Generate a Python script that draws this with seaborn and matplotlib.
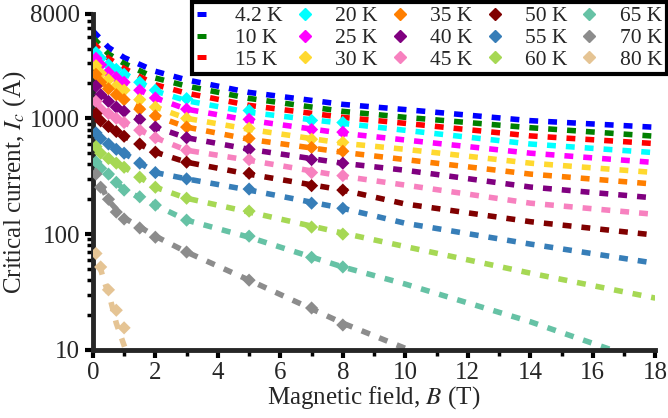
import numpy as np
import pandas as pd
import matplotlib
matplotlib.use('Agg')
import matplotlib.pyplot as plt
from matplotlib.lines import Line2D
from matplotlib.ticker import MultipleLocator, FixedLocator, FixedFormatter
import seaborn as sns

# temperature labels and colours
temps = ['4.2 K', '10 K', '15 K', '20 K', '25 K', '30 K', '35 K', '40 K',
         '45 K', '50 K', '55 K', '60 K', '65 K', '70 K', '80 K']
colors = ['#0000ff', '#008000', '#ff0000', '#00ffff', '#ff00ff', '#ffd92f',
          '#ff7f00', '#800080', '#f781bf', '#800000', '#377eb8', '#a6d854',
          '#66c2a5', '#8c8c8c', '#e5c494']

# fitted curves
fit_b = [0, 0.5, 1, 2, 3, 5, 8, 10, 14, 18]
fit_ic = {
    '4.2 K': [5700, 4100, 3350, 2550, 2150, 1675, 1320, 1190, 955, 837],
    '10 K': [5000, 3600, 2980, 2230, 1900, 1487, 1149, 1020, 830, 700],
    '15 K': [4500, 3300, 2700, 1950, 1650, 1294, 1020, 905, 705, 605],
    '20 K': [4000, 2900, 2440, 1720, 1420, 1126, 905, 788, 600, 505],
    '25 K': [3550, 2500, 2050, 1500, 1200, 961, 742, 650, 500, 415],
    '30 K': [3100, 2150, 1750, 1250, 1000, 804, 609, 540, 410, 340],
    '35 K': [2650, 1800, 1450, 1050, 840, 659, 509, 440, 330, 270],
    '40 K': [2100, 1400, 1150, 840, 680, 540, 409, 356, 255, 205],
    '45 K': [1550, 1100, 920, 680, 530, 434, 316, 265, 185, 148],
    '50 K': [1200, 850, 700, 510, 418, 329, 240, 182, 128, 98],
    '55 K': [800, 600, 500, 340, 300, 240, 167, 124, 82, 56],
    '60 K': [620, 450, 378, 254, 204, 155, 102, 78, 46, 28],
}
fit_b_65 = [0, 0.5, 1, 2, 3, 5, 8, 10, 14, 16.6]
fit_ic_65 = [460, 330, 240, 178, 132, 94, 52, 37, 17.5, 10]
fit_b_70 = [0, 0.5, 1, 2, 3, 5, 8, 10]
fit_ic_70 = [360, 195, 138, 96, 70, 40, 17, 10.3]
fit_b_80 = [0, 0.15, 0.35, 0.55, 0.75, 1.05]
fit_ic_80 = [75, 62, 40, 28, 17, 10]

# measured points (diamonds), 20 K and above
meas_b = [0.1, 0.25, 0.5, 0.75, 1, 1.5, 2, 3, 5, 7, 8]
meas_ic = {
    '20 K': [3700, 3300, 2900, 2650, 2400, 2050, 1750, 1480, 1170, 960, 920],
    '25 K': [3300, 2900, 2500, 2250, 2050, 1750, 1500, 1200, 980, 800, 760],
    '30 K': [2850, 2450, 2150, 1900, 1750, 1450, 1250, 1000, 820, 660, 620],
    '35 K': [2400, 2050, 1800, 1600, 1450, 1200, 1050, 840, 670, 560, 520],
    '40 K': [1900, 1600, 1400, 1250, 1150, 980, 840, 680, 540, 440, 410],
    '45 K': [1400, 1200, 1100, 1000, 920, 790, 680, 530, 440, 340, 320],
    '50 K': [1100, 950, 850, 770, 700, 600, 510, 418, 335, 262, 240],
    '55 K': [750, 670, 600, 540, 500, 410, 340, 300, 245, 185, 167],
    '60 K': [570, 500, 450, 410, 378, 310, 254, 204, 158, 115, 100],
    '65 K': [420, 370, 330, 280, 240, 210, 178, 132, 96, 63, 52],
    '70 K': [330, 254, 200, 155, 135, 113, 94, 70, 40, 23, 16.4],
}
meas_b_80 = [0.1, 0.25, 0.5, 0.75, 1]
meas_ic_80 = [68, 52, 33, 22, 15.5]

rows = []
for t in temps[:12]:
    for b, v in zip(fit_b, fit_ic[t]):
        rows.append((t, b, v))
for b, v in zip(fit_b_65, fit_ic_65):
    rows.append(('65 K', b, v))
for b, v in zip(fit_b_70, fit_ic_70):
    rows.append(('70 K', b, v))
for b, v in zip(fit_b_80, fit_ic_80):
    rows.append(('80 K', b, v))
fit_df = pd.DataFrame(rows, columns=['T', 'B', 'Ic'])

mrows = []
for t, vals in meas_ic.items():
    for b, v in zip(meas_b, vals):
        mrows.append((t, b, v))
for b, v in zip(meas_b_80, meas_ic_80):
    mrows.append(('80 K', b, v))
meas_df = pd.DataFrame(mrows, columns=['T', 'B', 'Ic'])

pal = dict(zip(temps, colors))

sns.set_style('ticks')
plt.rcParams['font.family'] = ['Liberation Serif', 'DejaVu Serif']
plt.rcParams['mathtext.fontset'] = 'stix'

fig = plt.figure(figsize=(6.68, 4.18), dpi=100)
ax = fig.add_axes([0.139, 0.163, 0.842, 0.804])

for t in temps:
    sub = fit_df[fit_df['T'] == t]
    sns.lineplot(data=sub, x='B', y='Ic', color=pal[t], lw=4,
                 linestyle=(0, (1.6, 1.8)), dash_capstyle='butt',
                 ax=ax, legend=False, zorder=2)
sns.scatterplot(data=meas_df, x='B', y='Ic', hue='T', palette=pal,
                marker='D', s=45, linewidth=0, ax=ax, legend=False, zorder=3)

ax.set_yscale('log')
ax.set_xlim(0, 18)
ax.set_ylim(10, 8000)
ax.yaxis.set_major_locator(FixedLocator([10, 100, 1000, 8000]))
ax.yaxis.set_major_formatter(FixedFormatter(['10', '100', '1000', '8000']))
ax.xaxis.set_major_locator(MultipleLocator(2))
ax.xaxis.set_minor_locator(MultipleLocator(1))

for s in ['top', 'right']:
    ax.spines[s].set_visible(False)
for s in ['left', 'bottom']:
    ax.spines[s].set_linewidth(3.5)
ax.tick_params(which='major', length=6, width=3, labelsize=18, color='black', pad=3)
ax.tick_params(which='minor', length=4, width=2.5, color='black')

ax.set_xlabel('Magnetic field, $B$ (T)', fontsize=18, labelpad=0)
ax.set_ylabel('Critical current, $I_c$ (A)', fontsize=18, labelpad=2)

handles = []
for i, t in enumerate(temps):
    if i < 3:
        h = Line2D([], [], color=colors[i], lw=3.6, linestyle=(0, (1.8, 2.0)),
                   dash_capstyle='butt')
    else:
        h = Line2D([], [], color=colors[i], lw=0, marker='D', markersize=6)
    handles.append(h)
leg = ax.legend(handles, temps, ncol=5, loc='upper right',
                bbox_to_anchor=(1.02, 1.035), fontsize=15.5, frameon=True,
                fancybox=False, edgecolor='black', handlelength=0.8,
                handletextpad=1.0, columnspacing=0.63, labelspacing=0.08,
                borderpad=0.2, borderaxespad=0, framealpha=1)
leg.get_frame().set_linewidth(3)

fig.savefig('out.png', dpi=100)
